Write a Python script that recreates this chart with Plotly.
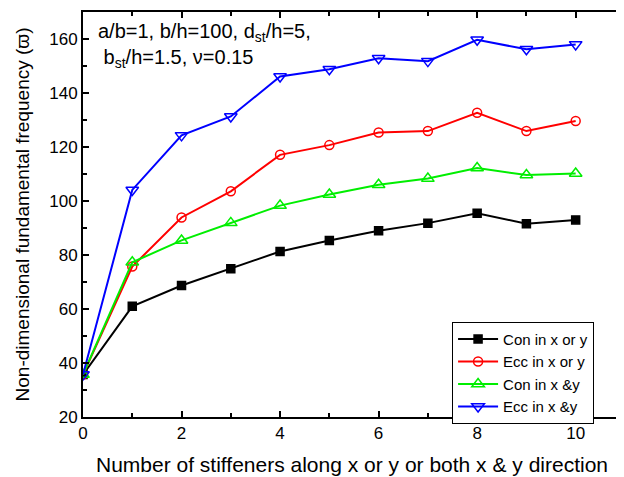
import plotly.graph_objects as go

x_vals = [0, 1, 2, 3, 4, 5, 6, 7, 8, 9, 10]
con_x_or_y = [35.7, 61.0, 68.7, 74.9, 81.3, 85.4, 89.0, 91.8, 95.5, 91.6, 93.0]
ecc_x_or_y = [35.7, 75.7, 93.9, 103.6, 117.1, 120.7, 125.4, 125.9, 132.7, 125.9, 129.6]
con_x_and_y = [35.7, 77.3, 85.4, 91.9, 98.3, 102.4, 106.0, 108.3, 112.2, 109.6, 110.2]
ecc_x_and_y = [35.7, 104.1, 124.3, 131.3, 146.1, 148.8, 152.9, 151.8, 159.7, 156.2, 158.0]

series = [
    ("Con in x or y", con_x_or_y, "black", "square", 8),
    ("Ecc in x or y", ecc_x_or_y, "red", "circle-open", 9),
    ("Con in x &y", con_x_and_y, "#00ee00", "triangle-up-open", 11),
    ("Ecc in x &y", ecc_x_and_y, "blue", "triangle-down-open", 11),
]

fig = go.Figure()
for name, vals, color, sym, size in series:
    fig.add_trace(go.Scatter(
        x=x_vals, y=vals, name=name, mode="lines+markers",
        line=dict(color=color, width=2),
        marker=dict(symbol=sym, size=size, color=color,
                    line=dict(color=color, width=1.5)),
    ))

font_family = "Liberation Sans, Arial, sans-serif"
# page body has an 8px default margin, so the figure is sized to fit the window
fig.update_layout(
    width=616, height=469,
    margin=dict(l=75, r=3, t=4, b=60),
    paper_bgcolor="white", plot_bgcolor="white",
    font=dict(family=font_family, size=17, color="black"),
    showlegend=True,
    legend=dict(
        x=0.686, y=0.235, xanchor="left", yanchor="top",
        bordercolor="black", borderwidth=1, bgcolor="white",
        font=dict(size=15), tracegroupgap=0, itemwidth=40,
    ),
    xaxis=dict(
        range=[0, 10.92], tickvals=[0, 2, 4, 6, 8, 10],
        ticks="inside", ticklen=6, tickwidth=1.5, tickcolor="black",
        minor=dict(tickvals=[1, 3, 5, 7, 9], ticks="inside", ticklen=4, tickcolor="black"),
        showline=True, linecolor="black", linewidth=2, mirror="ticks",
        showgrid=False, zeroline=False, automargin=False,
        tickfont=dict(size=17),
        title=dict(text="Number of stiffeners along x or y or both x & y direction",
                   font=dict(size=21)),
    ),
    yaxis=dict(
        range=[20, 170], tickvals=[20, 40, 60, 80, 100, 120, 140, 160],
        ticks="inside", ticklen=6, tickwidth=1.5, tickcolor="black",
        minor=dict(tickvals=[30, 50, 70, 90, 110, 130, 150], ticks="inside", ticklen=4, tickcolor="black"),
        showline=True, linecolor="black", linewidth=2, mirror=True,
        showgrid=False, zeroline=False, automargin=False,
        tickfont=dict(size=17),
        title=dict(text="Non-dimensional fundamental frequency (ϖ)", font=dict(size=19)),
    ),
)

fig.add_annotation(
    xref="paper", yref="paper", x=0.025, y=0.985, xanchor="left", yanchor="top",
    text="a/b=1, b/h=100, d<sub>st</sub>/h=5,<br> b<sub>st</sub>/h=1.5, ν=0.15",
    showarrow=False, align="left", font=dict(size=20),
)

fig.write_html("out.html")
